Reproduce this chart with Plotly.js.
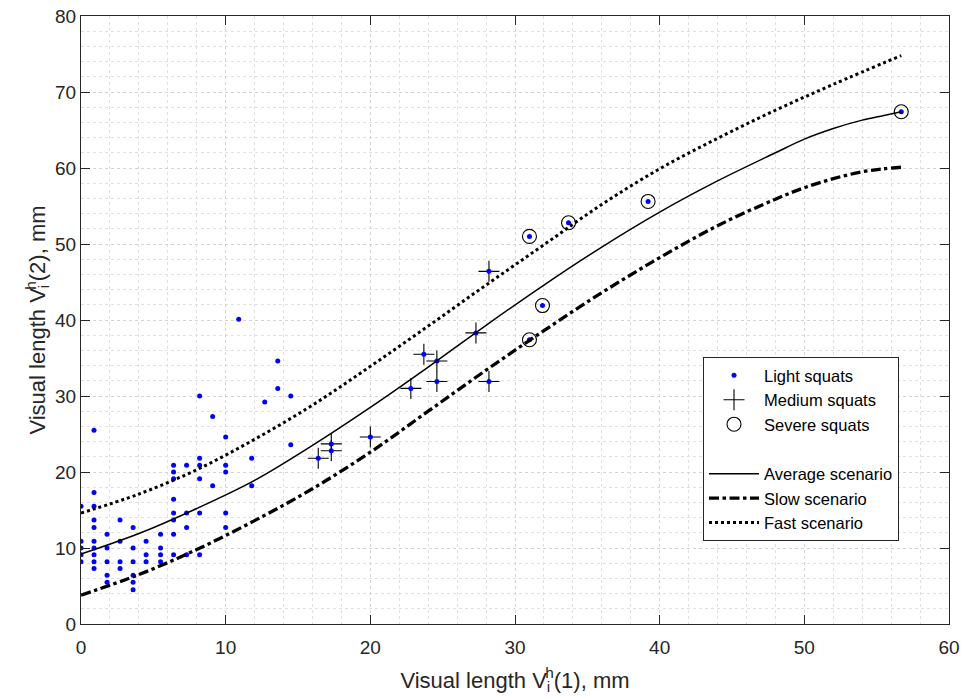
<!DOCTYPE html>
<html>
<head>
<meta charset="utf-8">
<script src="https://cdn.plot.ly/plotly-3.0.1.min.js"></script>
<style>html,body{margin:0;padding:0;background:#fff;}#chart{width:965px;height:699px;}</style>
</head>
<body>
<div id="chart"></div>
<script>
// Light squats
const lightX = [
  0,0,0,0,0,
  0.9,0.9,0.9,0.9,0.9,0.9,0.9,0.9,0.9,0.9,
  1.8,1.8,1.8,1.8,1.8,
  2.7,2.7,2.7,2.7,
  3.6,3.6,3.6,3.6,3.6,3.6,
  4.5,4.5,4.5,
  5.5,5.5,5.5,5.5,
  6.4,6.4,6.4,6.4,6.4,6.4,6.4,6.4,
  7.3,7.3,7.3,7.3,
  8.2,8.2,8.2,8.2,8.2,8.2,
  9.1,9.1,
  10,10,10,10,10,
  10.9,
  11.8,11.8,
  12.7,
  13.6,13.6,
  14.5,14.5
];
const lightY = [
  15.5,10.9,10.0,9.1,8.2,
  25.5,17.3,15.5,13.7,12.7,10.9,10.0,9.1,8.2,7.3,
  11.8,10.0,8.2,6.4,5.5,
  13.7,10.9,8.2,7.3,
  12.7,10.0,8.2,6.4,5.5,4.5,
  10.9,9.1,8.2,
  11.8,10.0,9.1,8.2,
  20.9,20.0,19.1,16.4,14.6,13.7,11.8,9.1,
  20.9,14.6,12.7,9.1,
  30.0,21.8,20.9,19.1,14.6,9.1,
  27.3,18.2,
  24.6,20.9,20.0,14.6,12.7,
  40.1,
  21.8,18.2,
  29.2,
  34.6,31.0,
  30.0,23.6
];
// Medium squats
const mediumX = [16.4,17.3,17.3,20.0,22.8,23.7,24.6,24.6,27.3,28.2,28.2];
const mediumY = [21.8,23.7,22.8,24.6,31.0,35.5,34.6,31.9,38.3,46.4,31.9];
// Severe squats
const severeX = [31.0,31.0,31.9,33.7,39.2,56.7];
const severeY = [37.4,51.0,41.9,52.8,55.6,67.4];
// Scenario curves
const avgX  = [0,4,8,12,16,20,24,28,32,36,40,44,48,50,52,54,55.5,56.7];
const avgY  = [9.2,11.9,15.2,18.9,23.5,28.5,33.8,39.3,44.6,49.6,54.2,58.3,62.0,63.8,65.2,66.3,66.9,67.4];
const slowX = [0,4,8,12,16,20,24,28,32,36,40,44,48,50,52,54,55.5,56.7];
const slowY = [3.8,6.5,9.8,13.6,17.8,22.6,28.0,33.4,38.6,43.6,48.2,52.4,55.9,57.4,58.6,59.5,59.9,60.1];
const fastX = [0,4,8,12,16,20,24,28,32,36,40,44,48,52,56.7];
const fastY = [14.6,17.1,20.3,24.3,28.8,33.9,39.2,44.6,49.9,55.2,59.9,63.9,67.6,71.0,74.8];

const FONT = 'Liberation Sans, Arial, Helvetica, sans-serif';
const TXT = '#262626';

const traces = [
  {x: lightX, y: lightY, type: 'scatter', mode: 'markers', name: 'Light squats',
   legendgroup: 'a', marker: {color: '#0000ff', size: 5}},
  {x: mediumX, y: mediumY, type: 'scatter', mode: 'markers', name: 'Medium squats',
   legendgroup: 'a', marker: {symbol: 'cross-thin-open', size: 15, color: '#000', line: {color: '#000', width: 1.1}}},
  {x: severeX, y: severeY, type: 'scatter', mode: 'markers', name: 'Severe squats',
   legendgroup: 'a', marker: {symbol: 'circle-open', size: 14, color: '#000', line: {color: '#000', width: 1.1}}},
  {x: mediumX.concat(severeX), y: mediumY.concat(severeY), type: 'scatter', mode: 'markers',
   showlegend: false, legendgroup: 'a', hoverinfo: 'skip', marker: {color: '#0000ff', size: 5}},
  {x: avgX, y: avgY, type: 'scatter', mode: 'lines', name: 'Average scenario', legendgroup: 'b',
   line: {color: '#000', width: 1.5, shape: 'spline', smoothing: 1}},
  {x: slowX, y: slowY, type: 'scatter', mode: 'lines', name: 'Slow scenario', legendgroup: 'b',
   line: {color: '#000', width: 3.3, dash: '10px,3.5px,3.5px,3.5px', shape: 'spline', smoothing: 1}},
  {x: fastX, y: fastY, type: 'scatter', mode: 'lines', name: 'Fast scenario', legendgroup: 'b',
   line: {color: '#000', width: 3, dash: 'dot', shape: 'spline', smoothing: 1}}
];

const axisCommon = {
  showline: true, linecolor: TXT, linewidth: 1, mirror: 'ticks',
  ticks: 'inside', ticklen: 9, tickcolor: TXT, tickwidth: 1,
  showgrid: true, gridcolor: '#d4d4d4', griddash: 'dot', gridwidth: 1,
  zeroline: false, dtick: 10,
  tickfont: {family: FONT, size: 19, color: TXT},
  minor: {dtick: 2, showgrid: true, gridcolor: '#e0e0e0', griddash: 'dot', gridwidth: 1, ticks: ''}
};

const layout = {
  width: 965, height: 699,
  margin: {l: 81, r: 16, t: 16, b: 75},
  paper_bgcolor: '#fff', plot_bgcolor: '#fff',
  showlegend: true,
  xaxis: Object.assign({}, axisCommon, {range: [0, 60], ticklabelstandoff: 6,
    title: {text: 'Visual length V<sub><span style="letter-spacing:-5px">i</span></sub><sup>h</sup>(1), mm', font: {family: FONT, size: 22, color: TXT}, standoff: 15}}),
  yaxis: Object.assign({}, axisCommon, {range: [0, 80],
    title: {text: 'Visual length V<sub><span style="letter-spacing:-5px">i</span></sub><sup>h</sup>(2), mm', font: {family: FONT, size: 22, color: TXT}, standoff: 3}}),
  legend: {x: 0.7166, y: 0.439, xanchor: 'left', yanchor: 'top',
    bgcolor: '#fff', bordercolor: TXT, borderwidth: 1,
    font: {family: FONT, size: 16.5, color: '#000'},
    traceorder: 'grouped', tracegroupgap: 25, itemwidth: 50}
};

Plotly.newPlot('chart', traces, layout, {staticPlot: true, displayModeBar: false});
</script>
</body>
</html>
